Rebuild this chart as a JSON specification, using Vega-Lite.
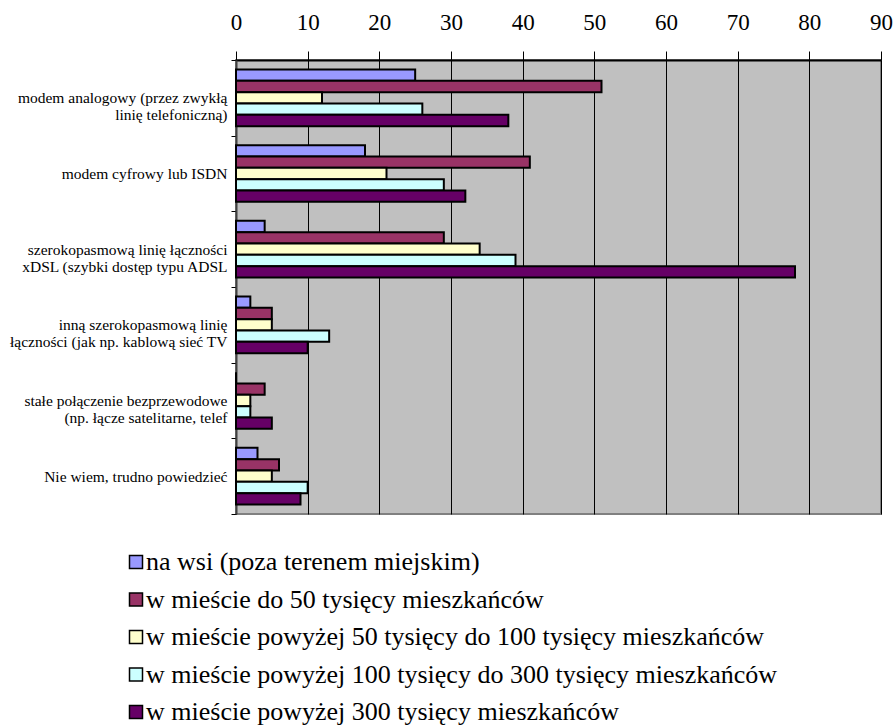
{
  "$schema": "https://vega.github.io/schema/vega-lite/v6.json",
  "width": 645,
  "height": 454,
  "autosize": {"type": "none"},
  "padding": {"left": 236, "top": 60, "right": 14, "bottom": 213},
  "background": "white",
  "config": {
    "font": "Liberation Serif",
    "view": {"fill": "#C0C0C0", "stroke": "#808080", "strokeWidth": 2}
  },
  "data": {
    "values": [
      {"kategoria": "modem analogowy (przez zwykłą|linię telefoniczną)", "seria": "na wsi (poza terenem miejskim)", "wartosc": 25},
      {"kategoria": "modem analogowy (przez zwykłą|linię telefoniczną)", "seria": "w mieście do 50 tysięcy mieszkańców", "wartosc": 51},
      {"kategoria": "modem analogowy (przez zwykłą|linię telefoniczną)", "seria": "w mieście powyżej 50 tysięcy do 100 tysięcy mieszkańców", "wartosc": 12},
      {"kategoria": "modem analogowy (przez zwykłą|linię telefoniczną)", "seria": "w mieście powyżej 100 tysięcy do 300 tysięcy mieszkańców", "wartosc": 26},
      {"kategoria": "modem analogowy (przez zwykłą|linię telefoniczną)", "seria": "w mieście powyżej 300 tysięcy mieszkańców", "wartosc": 38},
      {"kategoria": "modem cyfrowy lub ISDN", "seria": "na wsi (poza terenem miejskim)", "wartosc": 18},
      {"kategoria": "modem cyfrowy lub ISDN", "seria": "w mieście do 50 tysięcy mieszkańców", "wartosc": 41},
      {"kategoria": "modem cyfrowy lub ISDN", "seria": "w mieście powyżej 50 tysięcy do 100 tysięcy mieszkańców", "wartosc": 21},
      {"kategoria": "modem cyfrowy lub ISDN", "seria": "w mieście powyżej 100 tysięcy do 300 tysięcy mieszkańców", "wartosc": 29},
      {"kategoria": "modem cyfrowy lub ISDN", "seria": "w mieście powyżej 300 tysięcy mieszkańców", "wartosc": 32},
      {"kategoria": "szerokopasmową linię łączności|xDSL (szybki dostęp typu ADSL", "seria": "na wsi (poza terenem miejskim)", "wartosc": 4},
      {"kategoria": "szerokopasmową linię łączności|xDSL (szybki dostęp typu ADSL", "seria": "w mieście do 50 tysięcy mieszkańców", "wartosc": 29},
      {"kategoria": "szerokopasmową linię łączności|xDSL (szybki dostęp typu ADSL", "seria": "w mieście powyżej 50 tysięcy do 100 tysięcy mieszkańców", "wartosc": 34},
      {"kategoria": "szerokopasmową linię łączności|xDSL (szybki dostęp typu ADSL", "seria": "w mieście powyżej 100 tysięcy do 300 tysięcy mieszkańców", "wartosc": 39},
      {"kategoria": "szerokopasmową linię łączności|xDSL (szybki dostęp typu ADSL", "seria": "w mieście powyżej 300 tysięcy mieszkańców", "wartosc": 78},
      {"kategoria": "inną szerokopasmową linię|łączności (jak np. kablową sieć TV", "seria": "na wsi (poza terenem miejskim)", "wartosc": 2},
      {"kategoria": "inną szerokopasmową linię|łączności (jak np. kablową sieć TV", "seria": "w mieście do 50 tysięcy mieszkańców", "wartosc": 5},
      {"kategoria": "inną szerokopasmową linię|łączności (jak np. kablową sieć TV", "seria": "w mieście powyżej 50 tysięcy do 100 tysięcy mieszkańców", "wartosc": 5},
      {"kategoria": "inną szerokopasmową linię|łączności (jak np. kablową sieć TV", "seria": "w mieście powyżej 100 tysięcy do 300 tysięcy mieszkańców", "wartosc": 13},
      {"kategoria": "inną szerokopasmową linię|łączności (jak np. kablową sieć TV", "seria": "w mieście powyżej 300 tysięcy mieszkańców", "wartosc": 10},
      {"kategoria": "stałe połączenie bezprzewodowe|(np. łącze satelitarne, telef", "seria": "na wsi (poza terenem miejskim)", "wartosc": 0},
      {"kategoria": "stałe połączenie bezprzewodowe|(np. łącze satelitarne, telef", "seria": "w mieście do 50 tysięcy mieszkańców", "wartosc": 4},
      {"kategoria": "stałe połączenie bezprzewodowe|(np. łącze satelitarne, telef", "seria": "w mieście powyżej 50 tysięcy do 100 tysięcy mieszkańców", "wartosc": 2},
      {"kategoria": "stałe połączenie bezprzewodowe|(np. łącze satelitarne, telef", "seria": "w mieście powyżej 100 tysięcy do 300 tysięcy mieszkańców", "wartosc": 2},
      {"kategoria": "stałe połączenie bezprzewodowe|(np. łącze satelitarne, telef", "seria": "w mieście powyżej 300 tysięcy mieszkańców", "wartosc": 5},
      {"kategoria": "Nie wiem, trudno powiedzieć", "seria": "na wsi (poza terenem miejskim)", "wartosc": 3},
      {"kategoria": "Nie wiem, trudno powiedzieć", "seria": "w mieście do 50 tysięcy mieszkańców", "wartosc": 6},
      {"kategoria": "Nie wiem, trudno powiedzieć", "seria": "w mieście powyżej 50 tysięcy do 100 tysięcy mieszkańców", "wartosc": 5},
      {"kategoria": "Nie wiem, trudno powiedzieć", "seria": "w mieście powyżej 100 tysięcy do 300 tysięcy mieszkańców", "wartosc": 10},
      {"kategoria": "Nie wiem, trudno powiedzieć", "seria": "w mieście powyżej 300 tysięcy mieszkańców", "wartosc": 9}
    ]
  },
  "mark": {"type": "bar", "stroke": "black", "strokeWidth": 2},
  "encoding": {
    "y": {
      "field": "kategoria",
      "type": "nominal",
      "sort": null,
      "scale": {"paddingInner": 0, "paddingOuter": 0},
      "axis": {
        "title": null,
        "tickBand": "extent",
        "labelExpr": "split(datum.label, '|')",
        "labelFont": "Liberation Serif",
        "labelFontSize": 15.5,
        "labelColor": "black",
        "labelLineHeight": 17,
        "tickSize": 5,
        "tickColor": "black",
        "tickWidth": 1,
        "domainColor": "#404040",
        "domainWidth": 2,
        "labelPadding": 4,
        "labelLimit": 300,
        "grid": false
      }
    },
    "yOffset": {
      "field": "seria",
      "type": "nominal",
      "sort": null,
      "scale": {"paddingOuter": 0.84, "paddingInner": 0}
    },
    "x": {
      "field": "wartosc",
      "type": "quantitative",
      "scale": {"domain": [0, 90], "nice": false},
      "axis": {
        "orient": "top",
        "title": null,
        "values": [0, 10, 20, 30, 40, 50, 60, 70, 80, 90],
        "grid": true,
        "gridColor": "black",
        "gridWidth": 1,
        "gridOpacity": 1,
        "tickColor": "black",
        "tickSize": 9,
        "tickWidth": 1,
        "domainColor": "black",
        "domainWidth": 2,
        "labelFont": "Liberation Serif",
        "labelFontSize": 23,
        "labelColor": "black",
        "labelPadding": 17,
        "labelFlush": false
      }
    },
    "color": {
      "field": "seria",
      "type": "nominal",
      "sort": null,
      "scale": {
        "domain": [
          "na wsi (poza terenem miejskim)",
          "w mieście do 50 tysięcy mieszkańców",
          "w mieście powyżej 50 tysięcy do 100 tysięcy mieszkańców",
          "w mieście powyżej 100 tysięcy do 300 tysięcy mieszkańców",
          "w mieście powyżej 300 tysięcy mieszkańców"
        ],
        "range": ["#9999FF", "#993366", "#FFFFCC", "#CCFFFF", "#660066"]
      },
      "legend": {
        "orient": "none",
        "legendX": -113,
        "legendY": 489,
        "title": null,
        "direction": "vertical",
        "padding": 0,
        "symbolType": "square",
        "symbolSize": 169,
        "symbolStrokeColor": "black",
        "symbolStrokeWidth": 1.5,
        "symbolOpacity": 1,
        "labelFont": "Liberation Serif",
        "labelFontSize": 26,
        "labelColor": "black",
        "labelLimit": 800,
        "labelOffset": -3,
        "rowPadding": 11.5
      }
    }
  }
}
